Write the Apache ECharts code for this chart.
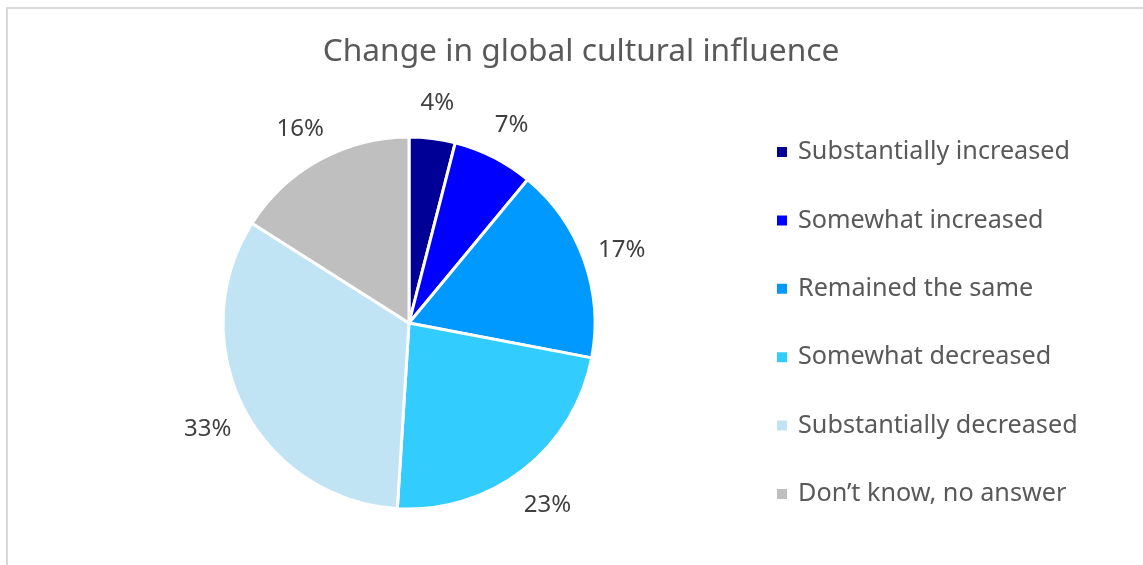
<!DOCTYPE html>
<html>
<head>
<meta charset="utf-8">
<script src="https://cdn.jsdelivr.net/npm/echarts@6/dist/echarts.min.js"></script>
<style>
  html, body { margin: 0; padding: 0; background: #ffffff; }
  #chart { width: 1143px; height: 565px; }
</style>
</head>
<body>
<div id="chart"></div>
<script>
// Survey answers and their shares (percent)
const categories = [
  'Substantially increased',
  'Somewhat increased',
  'Remained the same',
  'Somewhat decreased',
  'Substantially decreased',
  'Don\u2019t know, no answer'
];
const shares = [4, 7, 17, 23, 33, 16];
const sliceColors = ['#000096', '#0000FF', '#0099FF', '#33CCFF', '#C1E4F5', '#BFBFBF'];

const FONT = '"Noto Sans", "Open Sans", sans-serif';
const CENTER = [409, 323];
const RADIUS = 186;

const sliceData = categories.map((name, i) => ({
  name: name,
  value: shares[i],
  itemStyle: { color: sliceColors[i] }
}));

const chart = echarts.init(document.getElementById('chart'), null, { renderer: 'canvas' });

chart.setOption({
  animation: false,
  backgroundColor: '#ffffff',
  graphic: [{
    type: 'rect',
    shape: { x: 7, y: 8, width: 1200, height: 700 },
    style: { fill: 'none', stroke: '#d9d9d9', lineWidth: 2 },
    silent: true,
    z: -1
  }],
  title: {
    text: 'Change in global cultural influence',
    left: 581,
    textAlign: 'center',
    top: 36,
    padding: 0,
    textStyle: { fontFamily: FONT, fontSize: 31.7, fontWeight: 'normal', color: '#595959' }
  },
  legend: {
    orient: 'vertical',
    left: 775,
    top: 138,
    padding: 0,
    icon: 'rect',
    itemWidth: 12,
    itemHeight: 12,
    itemGap: 40.4,
    selectedMode: false,
    textStyle: {
      fontFamily: FONT, fontSize: 25.2, color: '#595959',
      lineHeight: 28, padding: [0, 0, 0, 5]
    },
    data: categories
  },
  series: [
    {
      // the pie itself
      type: 'pie',
      center: CENTER,
      radius: [0, RADIUS],
      startAngle: 90,
      clockwise: true,
      silent: true,
      itemStyle: { borderColor: '#ffffff', borderWidth: 3 },
      label: { show: false },
      labelLine: { show: false },
      data: sliceData
    },
    {
      // transparent ring that carries the percentage labels just outside the pie
      type: 'pie',
      center: CENTER,
      radius: [198, 248],
      startAngle: 90,
      clockwise: true,
      silent: true,
      legendHoverLink: false,
      itemStyle: { color: 'rgba(0,0,0,0)' },
      label: {
        show: true,
        position: 'inside',
        offset: [0, 4],
        formatter: p => p.value + '%',
        fontFamily: FONT,
        fontSize: 24,
        color: '#404040'
      },
      labelLine: { show: false },
      data: categories.map((name, i) => ({ name: name, value: shares[i] }))
    }
  ]
});
</script>
</body>
</html>
